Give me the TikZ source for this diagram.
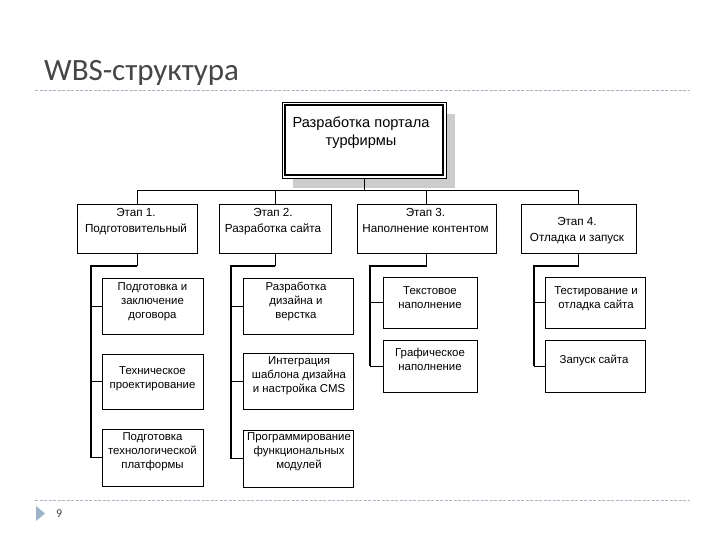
\documentclass[tikz,border=0pt]{standalone}
\usepackage{fontspec}
\setmainfont{Liberation Sans}
\newfontfamily\titlefont{Carlito}
\definecolor{rule}{RGB}{166,180,196}
\definecolor{tri}{RGB}{157,179,200}
\definecolor{titlegray}{RGB}{70,70,70}
\begin{document}
\begin{tikzpicture}[x=1pt,y=-1pt,
  box/.style={draw=black, line width=0.9pt, rectangle, inner sep=0pt},
  lbl/.style={inner sep=0pt, anchor=north, align=center, font=\fontsize{11.4}{14}\selectfont},
  stagelbl/.style={inner sep=0pt, anchor=north, align=center, font=\fontsize{11.7}{15.5}\selectfont},
  conn/.style={draw=black, line width=0.9pt},
  spine/.style={draw=black, line width=2pt},
  rulestyle/.style={draw=rule, line width=0.9pt, dash pattern=on 3pt off 1.5pt}]
\useasboundingbox (0,0) rectangle (720,540);
\fill[white] (0,0) rectangle (720,540);

% title and rules
\node[anchor=base west, inner sep=0pt, text=titlegray, font=\titlefont\fontsize{31}{31}\selectfont] (title) at (44,80.7) {WBS-структура};
\coordinate (r1a) at (35,90);
\coordinate (r1b) at (690,90);
\draw[rulestyle] (r1a) -- (r1b);
\coordinate (r2a) at (35,500);
\coordinate (r2b) at (690,500);
\draw[rulestyle] (r2a) -- (r2b);
\fill[tri] (36,506) -- (36,521) -- (45,513.5) -- cycle;
\node[anchor=base west, inner sep=0pt, text=titlegray, font=\titlefont\fontsize{12}{12}\selectfont] (pnum) at (56,517) {9};

% top box
\coordinate (shA) at (293,114);
\coordinate (shB) at (455,188);
\fill[gray!40] (shA) rectangle (shB);
\node[box, fill=white, minimum width=164pt, minimum height=76pt] (top) at (364,140) {};
\draw[line width=1.7pt] ([shift={(3.3,3.3)}]top.north west) rectangle ([shift={(-3.3,-3.3)}]top.south east);
\node[inner sep=0pt, anchor=north, align=center, font=\fontsize{14.6}{18}\selectfont] (topt) at (361,116.5) {Разработка портала\\турфирмы};

% stages
\node[box, minimum width=120pt, minimum height=49pt] (s1) at (137,228.5) {};
\node[box, minimum width=112pt, minimum height=49pt] (s2) at (275,228.5) {};
\node[box, minimum width=139pt, minimum height=49pt] (s3) at (426.5,228.5) {};
\node[box, minimum width=115pt, minimum height=49pt] (s4) at (578.5,228.5) {};
\node[stagelbl] (s1t) at (136,208.3) {Этап 1.\\Подготовительный};
\node[stagelbl] (s2t) at (273,208.3) {Этап 2.\\Разработка сайта};
\node[stagelbl] (s3t) at (425.5,208.3) {Этап 3.\\Наполнение контентом};
\node[stagelbl] (s4t) at (577,217.2) {Этап 4.\\Отладка и запуск};

% bus
\coordinate (bus) at (364,190.7);
\draw[conn] (top.south) -- (bus);
\draw[conn] (s1.north) |- (bus) -| (s4.north);
\draw[conn] (s2.north) -- (s2.north |- bus);
\draw[conn] (s3.north) -- (s3.north |- bus);

% sub boxes column 1
\node[box, minimum width=101pt, minimum height=56pt] (a1) at (152.5,306) {};
\node[box, minimum width=101pt, minimum height=55pt] (b1) at (152.5,381.5) {};
\node[box, minimum width=101pt, minimum height=57pt] (c1) at (152.5,457.5) {};
\node[lbl] (a1t) at (152.5,282) {Подготовка и\\заключение\\договора};
\node[lbl] (b1t) at (152.5,366) {Техническое\\проектирование};
\node[lbl] (c1t) at (152.5,432.7) {Подготовка\\технологической\\платформы};

% column 2
\node[box, minimum width=110pt, minimum height=56pt] (a2) at (298,306) {};
\node[box, minimum width=110pt, minimum height=56pt] (b2) at (298,381) {};
\node[box, minimum width=110pt, minimum height=57pt] (c2) at (298,458.5) {};
\node[lbl] (a2t) at (296,281.7) {Разработка\\дизайна и\\верстка};
\node[lbl] (b2t) at (299,356.7) {Интеграция\\шаблона дизайна\\и настройка CMS};
\node[lbl] (c2t) at (299,432.7) {Программирование\\функциональных\\модулей};

% column 3
\node[box, minimum width=94pt, minimum height=51pt] (a3) at (430,302.5) {};
\node[box, minimum width=94pt, minimum height=52pt] (b3) at (430,366) {};
\node[lbl] (a3t) at (430,286) {Текстовое\\наполнение};
\node[lbl] (b3t) at (430,348.3) {Графическое\\наполнение};

% column 4
\node[box, minimum width=100pt, minimum height=51pt] (a4) at (595,302.5) {};
\node[box, minimum width=100pt, minimum height=52pt] (b4) at (595,366) {};
\node[lbl] (a4t) at (596,286) {Тестирование и\\отладка сайта};
\node[lbl] (b4t) at (594,355) {Запуск сайта};

% spines
\coordinate (sp1) at (91,266);
\coordinate (sp2) at (231,266);
\coordinate (sp3) at (370,266);
\coordinate (sp4) at (534,266);

\draw[conn] (s1.south) -- (s1.south |- sp1);
\draw[spine] (s1.south |- sp1) -- (sp1) -- (sp1 |- c1.west);
\draw[conn] (a1.west) -- (a1.west -| sp1);
\draw[conn] (b1.west) -- (b1.west -| sp1);
\draw[conn] (c1.west) -- (c1.west -| sp1);

\draw[conn] (s2.south) -- (s2.south |- sp2);
\draw[spine] (s2.south |- sp2) -- (sp2) -- (sp2 |- c2.west);
\draw[conn] (a2.west) -- (a2.west -| sp2);
\draw[conn] (b2.west) -- (b2.west -| sp2);
\draw[conn] (c2.west) -- (c2.west -| sp2);

\draw[conn] (s3.south) -- (s3.south |- sp3);
\draw[spine] (s3.south |- sp3) -- (sp3) -- (sp3 |- b3.west);
\draw[conn] (a3.west) -- (a3.west -| sp3);
\draw[conn] (b3.west) -- (b3.west -| sp3);

\draw[conn] (s4.south) -- (s4.south |- sp4);
\draw[spine] (s4.south |- sp4) -- (sp4) -- (sp4 |- b4.west);
\draw[conn] (a4.west) -- (a4.west -| sp4);
\draw[conn] (b4.west) -- (b4.west -| sp4);
\end{tikzpicture}
\end{document}
